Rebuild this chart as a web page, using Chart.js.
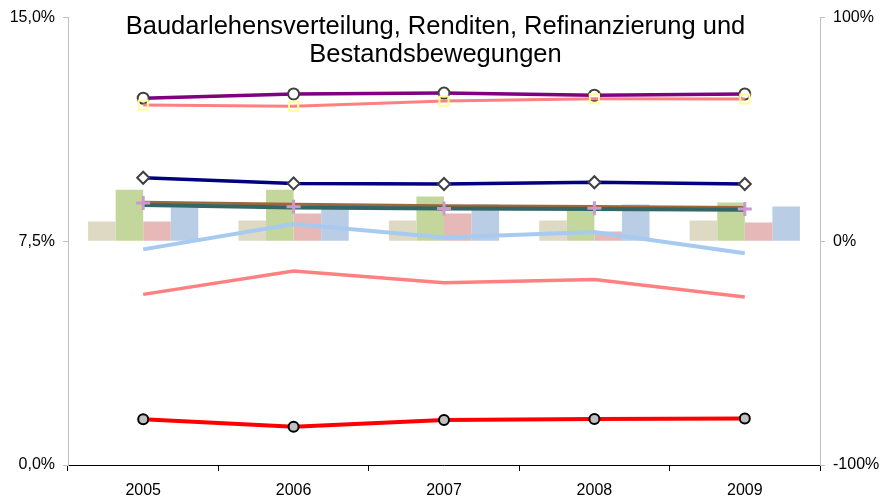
<!DOCTYPE html>
<html lang="de">
<head>
<meta charset="utf-8">
<title>Baudarlehensverteilung</title>
<script src="https://cdn.jsdelivr.net/npm/chart.js@4.4.1/dist/chart.umd.min.js"></script>
<style>
    body { margin: 0; background: #fff; }
    #chart-container { width: 881px; height: 500px; }
</style>
</head>
<body>
<div id="chart-container"><canvas id="bausparChart" width="881" height="500"></canvas></div>
<script>
const years = ['2005', '2006', '2007', '2008', '2009'];

// Säulen (rechte Achse, Veränderung in %)
const bars = [
    { color: '#DDD9C3', values: [8.9, 9.3, 9.3, 9.3, 9.3] },
    { color: '#C3D69B', values: [23.1, 23.1, 20.0, 14.7, 17.3] },
    { color: '#E6B9B8', values: [8.9, 12.4, 12.4, 4.4, 8.4] },
    { color: '#B9CDE5', values: [15.1, 14.8, 16.4, 16.4, 15.6] }
];

// Linien (linke Achse, in %)
const lines = {
    purple:    [12.30, 12.44, 12.47, 12.40, 12.44],
    salmonTop: [12.07, 12.03, 12.20, 12.28, 12.27],
    navy:      [9.63, 9.44, 9.42, 9.48, 9.42],
    brown:     [8.81, 8.74, 8.69, 8.67, 8.63],
    teal:      [8.72, 8.63, 8.60, 8.58, 8.56],
    plus:      [8.78, 8.66, 8.60, 8.61, 8.58],
    lightBlue: [7.23, 8.08, 7.63, 7.81, 7.10],
    salmonLow: [5.72, 6.50, 6.11, 6.22, 5.63],
    red:       [1.53, 1.28, 1.51, 1.54, 1.56]
};

function lineSet(data, color, width, extra) {
    return Object.assign({
        type: 'line',
        data: data,
        yAxisID: 'y',
        borderColor: color,
        backgroundColor: color,
        borderWidth: width,
        pointRadius: 0,
        tension: 0,
        order: 5
    }, extra || {});
}

const datasets = [];

bars.forEach(function(b) {
    datasets.push({
        type: 'bar',
        data: b.values,
        yAxisID: 'y1',
        backgroundColor: b.color,
        barPercentage: 1,
        categoryPercentage: 0.733,
        order: 20
    });
});

datasets.push(lineSet(lines.salmonLow, '#FF8080', 3.5, { order: 9 }));
datasets.push(lineSet(lines.lightBlue, '#A6CAF0', 4, { order: 9 }));
datasets.push(lineSet(lines.brown, '#A0673A', 3, { order: 8 }));
datasets.push(lineSet(lines.teal, '#336666', 4, { order: 7 }));
datasets.push(lineSet(lines.plus, '#CC99CC', 0, {
    showLine: false, pointStyle: 'cross', pointRadius: 7, pointBorderWidth: 3,
    pointBorderColor: '#CC99CC', order: 6
}));
datasets.push(lineSet(lines.navy, '#000080', 3.5, {
    pointStyle: 'rectRot', pointRadius: 6, pointBorderWidth: 2,
    pointBorderColor: '#404040', pointBackgroundColor: '#FFFFFF', order: 5
}));
datasets.push(lineSet(lines.purple, '#800080', 3.5, {
    pointStyle: 'circle', pointRadius: 5.5, pointBorderWidth: 2,
    pointBorderColor: '#404040', pointBackgroundColor: '#FFFFFF', order: 4
}));
datasets.push(lineSet(lines.salmonTop, '#FF8080', 3, {
    pointStyle: 'rect', pointRadius: 6.5, pointBorderWidth: 2,
    pointBorderColor: '#FFFF99', pointBackgroundColor: 'rgba(0,0,0,0)', order: 3
}));
datasets.push(lineSet(lines.red, '#FF0000', 4, {
    pointStyle: 'circle', pointRadius: 5, pointBorderWidth: 2,
    pointBorderColor: '#000000', pointBackgroundColor: '#C0C0C0', order: 2
}));

// Titel liegt im Diagrammbereich
const titlePlugin = {
    id: 'innerTitle',
    afterDraw: function(chart) {
        const ctx = chart.ctx;
        ctx.save();
        ctx.fillStyle = '#000';
        ctx.font = '25.5px "Liberation Sans", Arial, sans-serif';
        ctx.textAlign = 'center';
        ctx.textBaseline = 'alphabetic';
        ctx.fillText('Baudarlehensverteilung, Renditen, Refinanzierung und', 435.5, 34);
        ctx.fillText('Bestandsbewegungen', 435.5, 62);
        ctx.restore();
    }
};

Chart.defaults.font.family = '"Liberation Sans", Arial, sans-serif';
Chart.defaults.font.size = 16;
Chart.defaults.color = '#000';

new Chart(document.getElementById('bausparChart').getContext('2d'), {
    type: 'bar',
    data: { labels: years, datasets: datasets },
    options: {
        responsive: false,
        animation: false,
        layout: { padding: { top: 15, left: 0, right: 0, bottom: 0 } },
        plugins: {
            legend: { display: false },
            tooltip: { enabled: false },
            title: { display: false }
        },
        scales: {
            x: {
                offset: true,
                grid: { offset: true, drawOnChartArea: false, color: '#000', tickLength: 6 },
                border: { color: '#000' },
                ticks: { padding: 10 },
                afterFit: function(s) { s.height = 35; }
            },
            y: {
                position: 'left',
                min: 0,
                max: 15,
                ticks: {
                    stepSize: 7.5,
                    padding: 8,
                    callback: function(v) { return v.toFixed(1).replace('.', ',') + '%'; }
                },
                grid: { drawOnChartArea: false, color: '#BFBFBF', tickLength: 5 },
                border: { color: '#BFBFBF' },
                afterFit: function(s) { s.width = 68; }
            },
            y1: {
                position: 'right',
                min: -100,
                max: 100,
                ticks: {
                    stepSize: 100,
                    padding: 8,
                    callback: function(v) { return v + '%'; }
                },
                grid: { drawOnChartArea: false, color: '#BFBFBF', tickLength: 5 },
                border: { color: '#BFBFBF' },
                afterFit: function(s) { s.width = 61; }
            }
        }
    },
    plugins: [titlePlugin]
});
</script>
</body>
</html>
